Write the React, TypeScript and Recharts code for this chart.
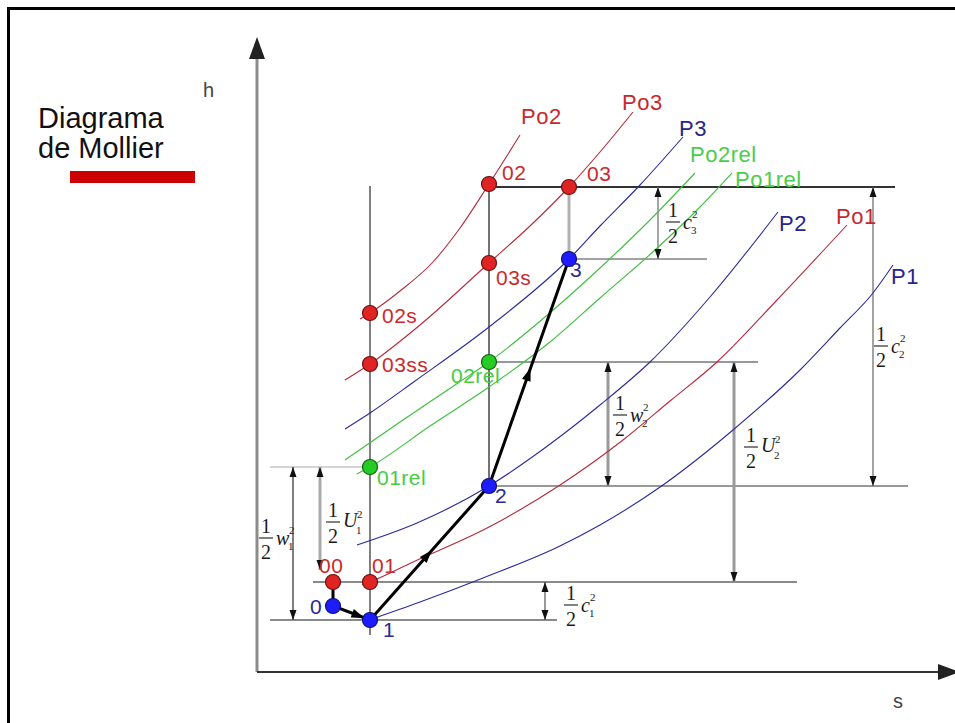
import React from 'react';
import { ComposedChart, Line, Scatter, XAxis, YAxis } from 'recharts';

// ---- coordinate frame: s (entropy) to the right, h (enthalpy) up ----
const S_DOMAIN: [number, number] = [-257, 698];
const H_DOMAIN: [number, number] = [-51, 672];

// ---- isobars, [s, h] ----
const curvePo2 = [[103, 353], [113, 359], [143, 381], [176, 410], [203, 444], [232, 488], [263, 537]];
const curvePo3 = [[88, 292], [113, 308], [163, 347], [232, 409], [273, 446], [312, 485], [343, 520], [376, 560]];
const curveP3 = [[88, 243], [113, 259], [158, 291], [232, 345], [312, 413], [343, 446], [383, 487], [426, 535]];
const curvePo2rel = [[88, 212], [143, 250], [201, 289], [232, 310], [288, 355], [343, 404], [393, 452], [438, 499]];
const curvePo1rel = [[100, 198], [113, 205], [173, 246], [232, 285], [293, 330], [343, 374], [398, 422], [443, 465], [475, 499]];
const curveP2 = [[100, 127], [160, 149], [232, 186], [285, 222], [343, 267], [393, 310], [453, 375], [521, 460]];
const curvePo1 = [[105, 87], [113, 90], [156, 110], [232, 145], [300, 185], [366, 232], [413, 271], [460, 310], [520, 372], [590, 447]];
const curveP1 = [[115, 53], [163, 70], [226, 94], [303, 126], [343, 147], [406, 187], [476, 242], [543, 302], [583, 344], [616, 379], [636, 407]];

// ---- states ----
const redStates = [
  { name: '00', s: 76, h: 90 },
  { name: '01', s: 113, h: 90 },
  { name: '03ss', s: 113, h: 308 },
  { name: '02s', s: 113, h: 359 },
  { name: '03s', s: 232, h: 409 },
  { name: '02', s: 232, h: 488 },
  { name: '03', s: 312, h: 485 },
];
const blueStates = [
  { name: '0', s: 76, h: 66 },
  { name: '1', s: 113, h: 52 },
  { name: '2', s: 232, h: 186 },
  { name: '3', s: 312, h: 413 },
];
const greenStates = [
  { name: '01rel', s: 113, h: 205 },
  { name: '02rel', s: 232, h: 310 },
];

// process path 00 -> 0 -> 1 -> 2 -> 3
const processPath = [[76, 90], [76, 66], [113, 52], [232, 186], [312, 413]];
const processArrows = [
  { from: 1, to: 2, t: 0.85 },
  { from: 2, to: 3, t: 0.52 },
  { from: 3, to: 4, t: 0.52 },
];

// ---- construction lines ----
const hLines = [
  { h: 485, s1: 232, s2: 638 },
  { h: 413, s1: 312, s2: 450 },
  { h: 310, s1: 232, s2: 501 },
  { h: 186, s1: 232, s2: 651 },
  { h: 90, s1: 56, s2: 540 },
  { h: 52, s1: 13, s2: 300 },
  { h: 205, s1: 13, s2: 113 },
];
const hLineStyles = [
  { c: '#333', w: 2.2 }, { c: '#444', w: 1 }, { c: '#333', w: 1.2 }, { c: '#333', w: 1.2 },
  { c: '#8a8a8a', w: 2 }, { c: '#8a8a8a', w: 1.8 }, { c: '#aaa', w: 1 },
];
const vLines = [
  { s: 113, h1: 37, h2: 486 },
  { s: 232, h1: 186, h2: 488 },
  { s: 312, h1: 413, h2: 485 },
];
const vLineStyles = [{ c: '#555', w: 1.5 }, { c: '#444', w: 1.5 }, { c: '#b0b0b0', w: 3 }];

// ---- dimension arrows (½ x²) ----
const dimArrows = [
  { s: 36, h1: 52, h2: 205 },
  { s: 63, h1: 102, h2: 205 },
  { s: 288, h1: 52, h2: 90 },
  { s: 401, h1: 413, h2: 485 },
  { s: 351, h1: 186, h2: 310 },
  { s: 477, h1: 90, h2: 310 },
  { s: 616, h1: 186, h2: 485 },
];
const dimStyles = [
  { c: '#555', w: 1.5 }, { c: '#aaa', w: 3 }, { c: '#555', w: 1.2 }, { c: '#888', w: 1.5 },
  { c: '#999', w: 3 }, { c: '#999', w: 3 }, { c: '#666', w: 1.2 },
];
const fractions = [
  { s: 9, h: 134, v: 'w', sub: '1' },
  { s: 76, h: 150, v: 'U', sub: '1' },
  { s: 314, h: 67, v: 'c', sub: '1' },
  { s: 416, h: 450, v: 'c', sub: '3' },
  { s: 363, h: 257, v: 'w', sub: '2' },
  { s: 494, h: 225, v: 'U', sub: '2' },
  { s: 624, h: 326, v: 'c', sub: '2' },
];

// ---- text labels ----
const stateLabels = [
  { s: 53, h: 58, text: '0', color: '#2a2a90' },
  { s: 62, h: 99, text: '00', color: '#cc2a2a' },
  { s: 115, h: 99, text: '01', color: '#cc2a2a' },
  { s: 126, h: 35, text: '1', color: '#2a2a90' },
  { s: 120, h: 187, text: '01rel', color: '#44cc44' },
  { s: 238, h: 169, text: '2', color: '#2a2a90' },
  { s: 194, h: 289, text: '02rel', color: '#44cc44' },
  { s: 125, h: 300, text: '03ss', color: '#cc2a2a' },
  { s: 125, h: 349, text: '02s', color: '#cc2a2a' },
  { s: 239, h: 387, text: '03s', color: '#cc2a2a' },
  { s: 245, h: 492, text: '02', color: '#cc2a2a' },
  { s: 330, h: 491, text: '03', color: '#cc2a2a' },
  { s: 313, h: 395, text: '3', color: '#2a2a90' },
];
const curveLabels = [
  { s: 264, h: 548, text: 'Po2', color: '#c8282d' },
  { s: 365, h: 562, text: 'Po3', color: '#c8282d' },
  { s: 422, h: 536, text: 'P3', color: '#25258c' },
  { s: 433, h: 510, text: 'Po2rel', color: '#4ccc4c' },
  { s: 478, h: 485, text: 'Po1rel', color: '#4ccc4c' },
  { s: 522, h: 441, text: 'P2', color: '#25258c' },
  { s: 579, h: 448, text: 'Po1', color: '#c8282d' },
  { s: 634, h: 388, text: 'P1', color: '#25258c' },
];
const axisLabels = [
  { s: -54, h: 575, text: 'h' },
  { s: 636, h: -36, text: 's' },
];
const titleLines = [
  { s: -219, h: 544, text: 'Diagrama' },
  { s: -219, h: 514, text: 'de Mollier' },
];
const titleBar = [[-187, 495], [-62, 495]];

// axes
const sAxis = [[0, 0], [681, 0]];
const hAxis = [[0, 0], [0, 614]];
const axisHeads = [
  { s: 0, h: 635, dx: 0, dh: 1 },
  { s: 703, h: 0, dx: 1, dh: 0 },
];

const pts = (arr: number[][]) => arr.map(([s, h]) => ({ s, h }));

const RED = '#b52a3c';
const BLUE = '#2b2b9b';
const GREEN = '#3cbf3c';

const SANS = "'Liberation Sans', Arial, sans-serif";
const SERIF = "'Liberation Serif', 'Times New Roman', serif";

const dotShape = (fill: string, stroke: string) => (p: any) => (
  <circle cx={p.cx} cy={p.cy} r={7.5} fill={fill} stroke={stroke} strokeWidth={1.2} />
);

const arrowShape = (len: number, wid: number, fill: string) => (p: any) => {
  const { dx, dh } = p.payload;
  const ang = (Math.atan2(-dh, dx) * 180) / Math.PI;
  return (
    <polygon
      points={`0,0 ${-len},${-wid / 2} ${-len},${wid / 2}`}
      fill={fill}
      transform={`translate(${p.cx},${p.cy}) rotate(${ang})`}
    />
  );
};

const textShape = (size: number, family: string, defColor: string, spacing = 0) => (p: any) => (
  <text x={p.cx} y={p.cy} fontSize={size} fontFamily={family} letterSpacing={spacing} fill={p.payload.color || defColor}>
    {p.payload.text}
  </text>
);

const varWidth: Record<string, number> = { w: 13, U: 14, c: 9 };

const fractionShape = (p: any) => {
  const { cx, cy, payload } = p;
  const v = payload.v as string;
  const lower = v !== 'U';
  const w = varWidth[v] || 12;
  const vx = cx + 10;
  return (
    <g fontFamily={SERIF} fill="#1a1a1a">
      <text x={cx} y={cy - 5} fontSize={20} textAnchor="middle">1</text>
      <line x1={cx - 7} x2={cx + 7} y1={cy} y2={cy} stroke="#1a1a1a" strokeWidth={1.1} />
      <text x={cx} y={cy + 21} fontSize={20} textAnchor="middle">2</text>
      <text x={vx} y={cy + (lower ? 7 : 5)} fontSize={20} fontStyle="italic">{v}</text>
      <text x={vx + w - 1} y={cy + 12} fontSize={11}>{payload.sub}</text>
      <text x={vx + w} y={cy - 4} fontSize={11}>2</text>
    </g>
  );
};

export default function App() {
  const curves = [
    { d: curvePo2, c: RED },
    { d: curvePo3, c: RED },
    { d: curveP3, c: BLUE },
    { d: curvePo2rel, c: GREEN },
    { d: curvePo1rel, c: GREEN },
    { d: curveP2, c: BLUE },
    { d: curvePo1, c: RED },
    { d: curveP1, c: BLUE },
  ];

  const dimHeads: any[] = [];
  dimArrows.forEach((a) => {
    dimHeads.push({ s: a.s, h: a.h2, dx: 0, dh: 1 });
    dimHeads.push({ s: a.s, h: a.h1, dx: 0, dh: -1 });
  });

  const procHeads = processArrows.map((a) => {
    const [s1, h1] = processPath[a.from];
    const [s2, h2] = processPath[a.to];
    return { s: s1 + (s2 - s1) * a.t, h: h1 + (h2 - h1) * a.t, dx: s2 - s1, dh: h2 - h1 };
  });

  return (
    <div style={{ position: 'absolute', left: 0, top: 0, width: 955, height: 723, overflow: 'hidden', background: '#fff' }}>
      <div style={{ position: 'absolute', left: 7, top: 7, width: 1200, height: 1000, border: '3px solid #000' }} />
      <div style={{ position: 'absolute', left: 0, top: 0 }}>
        <ComposedChart width={955} height={723} margin={{ top: 0, right: 0, bottom: 0, left: 0 }}>
          <XAxis type="number" dataKey="s" domain={S_DOMAIN} allowDataOverflow hide />
          <YAxis type="number" dataKey="h" domain={H_DOMAIN} allowDataOverflow hide />

          {/* axes */}
          <Line data={pts(hAxis)} dataKey="h" type="linear" stroke="#8c8c8c" strokeWidth={3} dot={false} isAnimationActive={false} />
          <Line data={pts(sAxis)} dataKey="h" type="linear" stroke="#333" strokeWidth={2} dot={false} isAnimationActive={false} />

          {/* title bar */}
          <Line data={pts(titleBar)} dataKey="h" type="linear" stroke="#cc0000" strokeWidth={12} dot={false} isAnimationActive={false} />

          {/* construction lines */}
          {hLines.map((l, i) => (
            <Line key={'hl' + i} data={[{ s: l.s1, h: l.h }, { s: l.s2, h: l.h }]} dataKey="h" type="linear"
              stroke={hLineStyles[i].c} strokeWidth={hLineStyles[i].w} dot={false} isAnimationActive={false} />
          ))}
          {vLines.map((l, i) => (
            <Line key={'vl' + i} data={[{ s: l.s, h: l.h1 }, { s: l.s, h: l.h2 }]} dataKey="h" type="linear"
              stroke={vLineStyles[i].c} strokeWidth={vLineStyles[i].w} dot={false} isAnimationActive={false} />
          ))}
          {dimArrows.map((a, i) => (
            <Line key={'da' + i} data={[{ s: a.s, h: a.h1 }, { s: a.s, h: a.h2 }]} dataKey="h" type="linear"
              stroke={dimStyles[i].c} strokeWidth={dimStyles[i].w} dot={false} isAnimationActive={false} />
          ))}

          {/* isobars */}
          {curves.map((c, i) => (
            <Line key={'c' + i} data={pts(c.d)} dataKey="h" type="monotone" stroke={c.c} strokeWidth={1.1}
              dot={false} isAnimationActive={false} />
          ))}

          {/* process path */}
          <Line data={pts(processPath)} dataKey="h" type="linear" stroke="#000" strokeWidth={3} dot={false} isAnimationActive={false} />

          <Scatter data={dimHeads} dataKey="h" shape={arrowShape(10, 7, '#111')} isAnimationActive={false} />
          <Scatter data={procHeads} dataKey="h" shape={arrowShape(13, 9, '#000')} isAnimationActive={false} />
          <Scatter data={axisHeads} dataKey="h" shape={arrowShape(22, 16, '#222')} isAnimationActive={false} />

          {/* states */}
          <Scatter data={redStates} dataKey="h" shape={dotShape('#e02424', '#6a1010')} isAnimationActive={false} />
          <Scatter data={blueStates} dataKey="h" shape={dotShape('#1c1cff', '#101070')} isAnimationActive={false} />
          <Scatter data={greenStates} dataKey="h" shape={dotShape('#26cc26', '#136013')} isAnimationActive={false} />

          {/* texts */}
          <Scatter data={stateLabels} dataKey="h" shape={textShape(21, SANS, '#000', 0.5)} isAnimationActive={false} />
          <Scatter data={curveLabels} dataKey="h" shape={textShape(22, SANS, '#000', 0.5)} isAnimationActive={false} />
          <Scatter data={axisLabels} dataKey="h" shape={textShape(20, SANS, '#444')} isAnimationActive={false} />
          <Scatter data={titleLines} dataKey="h" shape={textShape(29, SANS, '#111')} isAnimationActive={false} />
          <Scatter data={fractions} dataKey="h" shape={fractionShape} isAnimationActive={false} />
        </ComposedChart>
      </div>
    </div>
  );
}
